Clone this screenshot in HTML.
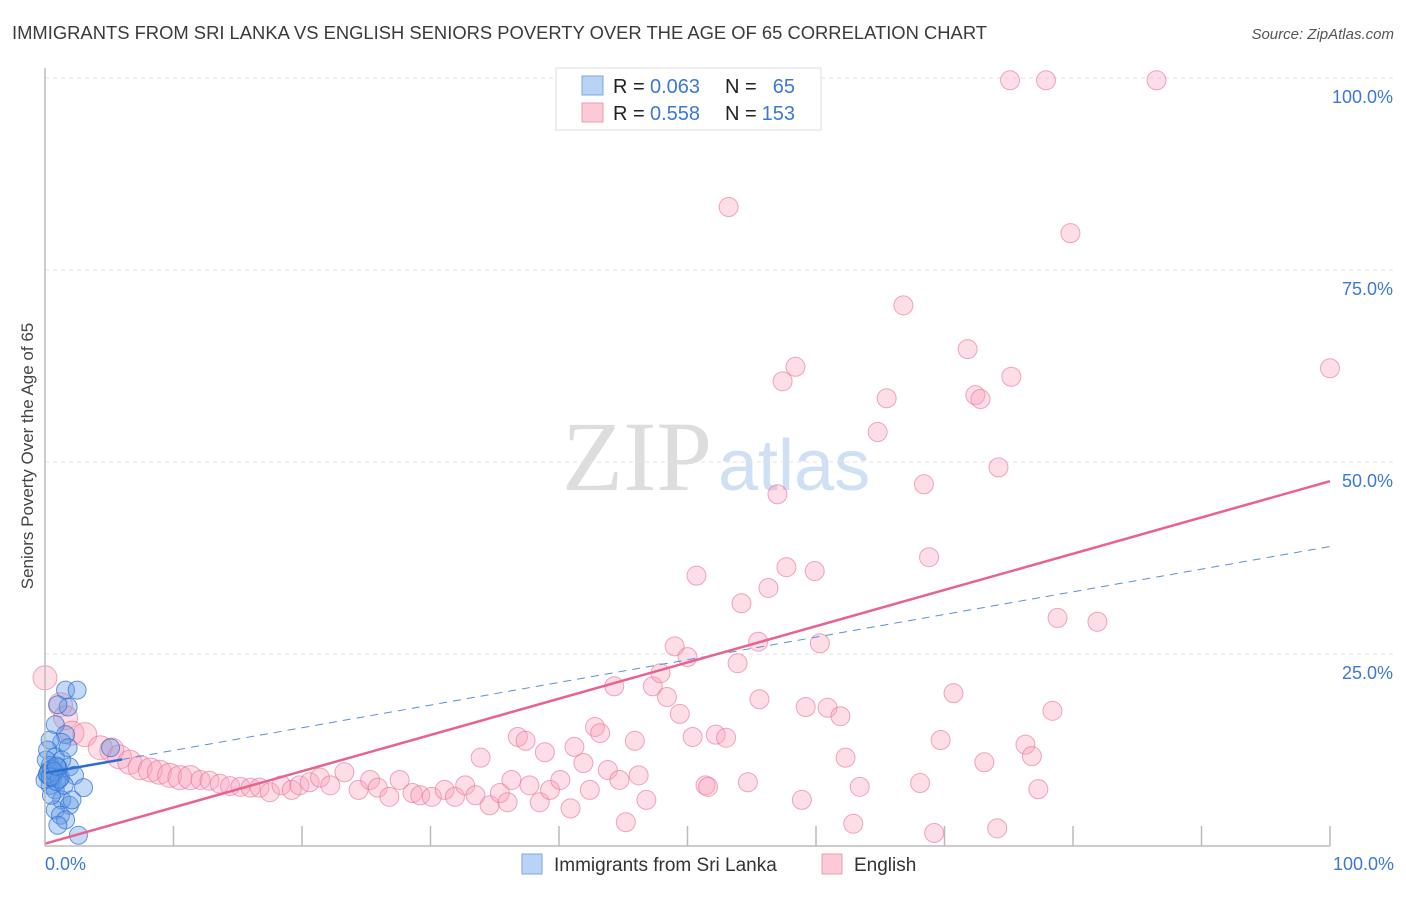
<!DOCTYPE html>
<html><head><meta charset="utf-8"><style>
body{margin:0;background:#fff;font-family:"Liberation Sans",sans-serif;}
svg text{font-family:"Liberation Sans",sans-serif;}
</style></head><body>
<svg id="chart" width="1406" height="892">
<text x="12" y="39" font-size="18" fill="#3a3a3a" textLength="975" lengthAdjust="spacingAndGlyphs">IMMIGRANTS FROM SRI LANKA VS ENGLISH SENIORS POVERTY OVER THE AGE OF 65 CORRELATION CHART</text>
<text x="1394" y="39" font-size="15" fill="#555" font-style="italic" text-anchor="end">Source: ZipAtlas.com</text>
<text transform="translate(33,456) rotate(-90)" font-size="17" fill="#444" text-anchor="middle">Seniors Poverty Over the Age of 65</text>
<text x="712" y="490" font-size="100" fill="#ddd" text-anchor="end" style="font-family:'Liberation Serif',serif">ZIP</text>
<text x="718" y="490" font-size="72" fill="#cfe0f5">atlas</text>
<g id="grid"></g><g id="marks"></g>
<line x1="45" y1="68" x2="45" y2="846" stroke="#bbb" stroke-width="1.5"/>
<line x1="45" y1="846" x2="1330" y2="846" stroke="#bbb" stroke-width="1.5"/>
<text x="45" y="870" font-size="18" fill="#3b78d8">0.0%</text>
<text x="1394" y="870" font-size="18" fill="#3b78d8" text-anchor="end">100.0%</text>
<g>
<rect x="556" y="68" width="265" height="62" fill="#fff" stroke="#ddd"/>
<rect x="582" y="76" width="21" height="19" fill="#b9d3f5" stroke="#7aa7e6"/>
<rect x="582" y="103" width="21" height="19" fill="#fcc9d6" stroke="#ef9ab2"/>
<text x="613" y="93" font-size="20" fill="#222">R =</text>
<text x="650" y="93" font-size="20" fill="#3b78d8">0.063</text>
<text x="725" y="93" font-size="20" fill="#222">N =</text>
<text x="795" y="93" font-size="20" fill="#3b78d8" text-anchor="end">65</text>
<text x="613" y="120" font-size="20" fill="#222">R =</text>
<text x="650" y="120" font-size="20" fill="#3b78d8">0.558</text>
<text x="725" y="120" font-size="20" fill="#222">N =</text>
<text x="795" y="120" font-size="20" fill="#3b78d8" text-anchor="end">153</text>
</g>
<g>
<rect x="522" y="854" width="20" height="20" fill="#b9d3f5" stroke="#7aa7e6"/>
<text x="554" y="871" font-size="19" fill="#333">Immigrants from Sri Lanka</text>
<rect x="822" y="854" width="20" height="20" fill="#fcc9d6" stroke="#ef9ab2"/>
<text x="854" y="871" font-size="19" fill="#333">English</text>
</g>
</svg>
<script>
const yTicks=[25,50,75,100];
const xTicks=[10,20,30,40,50,60,70,80,90,100];
const pinkX=[0,1.2,1.6,2.1,3.1,4.3,5.2,5.8,6.6,7.4,8.2,8.9,9.7,10.5,11.3,12.1,12.8,13.6,14.4,15.2,16,16.7,17.5,18.4,19.2,19.8,20.6,21.4,22.2,23.3,24.4,25.3,25.9,26.8,27.6,28.6,29.2,30.1,31.1,31.9,32.7,33.5,33.9,34.6,35.4,36,36.3,36.8,37.4,37.7,38.5,38.9,39.3,40.1,40.9,41.2,41.9,42.4,42.8,43.2,43.8,44.3,44.7,45.2,45.9,46.2,46.8,47.3,47.9,48.4,49,49.4,50,50.4,50.7,51.4,51.6,52.2,53,53.2,53.9,54.2,54.7,55.5,55.6,56.3,57,57.4,57.7,58.4,58.9,59.2,59.9,60.3,60.9,61.9,62.3,62.9,63.4,64.8,65.5,66.8,68.1,68.4,68.8,69.2,69.7,70.7,71.8,72.4,72.8,73.1,74.1,74.2,75.1,75.2,76.3,76.8,77.3,77.9,78.4,78.8,79.8,81.9,86.5,100];
const pinkY=[21.9,18.4,16.7,14.7,14.5,12.8,12.5,11.6,10.9,10.2,9.9,9.6,9.2,8.9,8.9,8.6,8.5,8.1,7.8,7.7,7.6,7.6,7.0,7.9,7.3,7.9,8.3,8.9,7.9,9.6,7.3,8.6,7.6,6.4,8.6,6.9,6.6,6.4,7.3,6.4,7.9,6.6,11.5,5.3,6.9,5.7,8.6,14.2,13.7,7.9,5.7,12.2,7.3,8.6,4.9,12.9,10.8,7.3,15.5,14.7,9.9,20.8,8.6,3.1,13.7,9.2,6.0,20.8,22.5,19.4,26,17.2,24.6,14.2,35.2,7.9,7.7,14.5,14.1,83.2,23.8,31.6,8.3,26.6,19.1,33.6,45.8,60.5,36.3,62.4,6.0,18.1,35.8,26.4,18,16.9,11.5,2.9,7.7,53.9,58.3,70.4,8.2,47.1,37.6,1.7,13.8,19.9,64.7,58.7,58.2,10.9,2.3,49.3,99.7,61.1,13.2,11.7,7.4,99.7,17.6,29.7,79.8,29.2,99.7,62.2];
const blueX=[1.6,2.5,1.8,1,0.8,1.6,1.3,0.4,0.2,0.8,1.3,1.9,0.4,0.2,0.8,1.2,0.4,0.8,2.3,3,1.3,1.9,0.8,1.2,1.6,1,2.6,5.1,0,0.5,1.5,0.1,1,1.8,2.1,0.3,0.6,0.9,0.5,0.2,0.7,1.1,0.4,0.9];
const blueY=[20.3,20.3,18.1,18.4,15.8,14.5,13.5,13.8,12.5,11.6,11.2,10.3,10.5,9.2,9.6,8.9,7.9,7.3,9.2,7.6,6.0,5.3,4.7,4.0,3.4,2.7,1.4,12.8,8.6,6.6,7.9,11.2,10.2,12.8,6.0,9.8,9.0,8.4,10.0,9.4,9.7,8.7,9.0,10.4];
const pinkTrend=[0.3,47.5];
const blueTrend=[9.5,39];
const X0=45,X1=1330,Y0=846,Y1=78;
const sx=v=>X0+(X1-X0)*v/100;
const sy=v=>Y0-(Y0-Y1)*v/100;
const NS="http://www.w3.org/2000/svg";
const grid=document.getElementById('grid'),marks=document.getElementById('marks');
function mk(tag,attrs,parent){const e=document.createElementNS(NS,tag);for(const k in attrs)e.setAttribute(k,attrs[k]);parent.appendChild(e);return e;}
yTicks.forEach(t=>{
  const l=mk('line',{x1:X0,x2:1395,y1:sy(t),y2:sy(t),stroke:'#e2e2e2','stroke-dasharray':'4,4'},grid);
  
  
  const tx=mk('text',{x:1393,y:sy(t)+25,'font-size':18,fill:'#3b78d8','text-anchor':'end'},grid);
  tx.textContent=t.toFixed(1)+'%';
  
  
});
xTicks.forEach(t=>{
  const l=mk('line',{x1:sx(t),x2:sx(t),y1:826,y2:846,stroke:'#bbb','stroke-width':1.5},grid);
  
  
});
pinkX.forEach((x,i)=>{
  const r=x<12?12:9.5;
  const c=mk('circle',{cx:sx(x),cy:sy(pinkY[i]),r:r,fill:'rgba(248,160,186,0.35)',stroke:'rgba(232,110,150,0.6)','stroke-width':1},marks);
  
  
});
blueX.forEach((x,i)=>{
  const c=mk('circle',{cx:sx(x),cy:sy(blueY[i]),r:9,fill:'rgba(100,155,230,0.38)',stroke:'rgba(40,110,210,0.7)','stroke-width':1},marks);
  
  
});
const bl=(x)=>blueTrend[0]+(blueTrend[1]-blueTrend[0])*x/100;
const bd=mk('line',{x1:sx(6),y1:sy(bl(6)),x2:sx(100),y2:sy(bl(100)),stroke:'#5a8fd8','stroke-width':1,'stroke-dasharray':'8,6'},marks);


const bs=mk('line',{x1:sx(0),y1:sy(bl(0)),x2:sx(6),y2:sy(bl(6)),stroke:'#2a6fd0','stroke-width':2.5},marks);


const pl=mk('line',{x1:sx(0),y1:sy(pinkTrend[0]),x2:sx(100),y2:sy(pinkTrend[1]),stroke:'#e8628f','stroke-width':2.5},marks);


</script>
</body></html>
